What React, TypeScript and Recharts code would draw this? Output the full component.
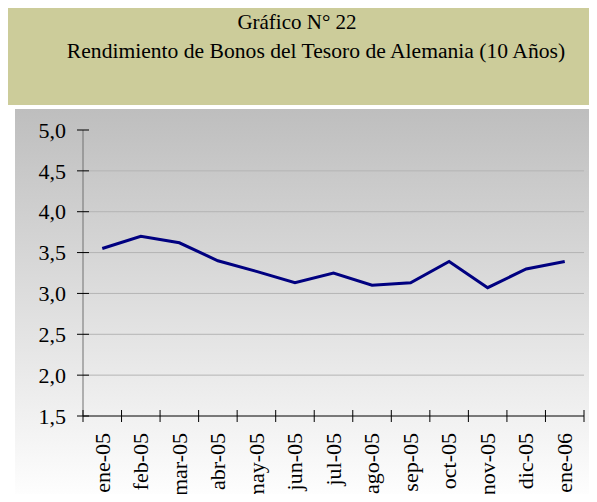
import { CartesianGrid, Line, LineChart, XAxis, YAxis } from "recharts";

const MONTHS = [
  "ene-05",
  "feb-05",
  "mar-05",
  "abr-05",
  "may-05",
  "jun-05",
  "jul-05",
  "ago-05",
  "sep-05",
  "oct-05",
  "nov-05",
  "dic-05",
  "ene-06",
];

const YIELDS = [3.55, 3.7, 3.62, 3.4, 3.27, 3.13, 3.25, 3.1, 3.13, 3.39, 3.07, 3.3, 3.39];

const Y_TICKS = [1.5, 2.0, 2.5, 3.0, 3.5, 4.0, 4.5, 5.0];
const GRID_VALUES = [2.0, 2.5, 3.0, 3.5, 4.0, 4.5];

const FONT = "'Liberation Serif', 'Times New Roman', serif";

const chartData = MONTHS.map((m, i) => ({ month: m, value: YIELDS[i] }));

// category labels sit mid-band, tick marks sit on the band edges (Excel style)
function XTick(props: any) {
  const { x, y, payload, index } = props;
  const off = payload.offset || 19.27;
  const last = index === MONTHS.length - 1;
  const ty = y + 17;
  return (
    <g>
      <line x1={x - off} x2={x - off} y1={y - 6} y2={y + 6} stroke="#000" />
      {last && <line x1={x + off} x2={x + off} y1={y - 6} y2={y + 6} stroke="#000" />}
      <text
        x={x}
        y={ty}
        transform={`rotate(-90 ${x} ${ty})`}
        textAnchor="end"
        dy="0.33em"
        fontSize={22}
        style={{ fontFamily: FONT }}
        fill="#000"
      >
        {payload.value}
      </text>
    </g>
  );
}

function YTick(props: any) {
  const { x, y, payload } = props;
  return (
    <g>
      <line x1={x - 6} x2={x + 6} y1={y} y2={y} stroke="#000" />
      <text
        x={x - 17}
        y={y}
        textAnchor="end"
        dy="0.35em"
        fontSize={22}
        style={{ fontFamily: FONT }}
        fill="#000"
      >
        {payload.value.toFixed(1).replace(".", ",")}
      </text>
    </g>
  );
}

export default function App() {
  return (
    <div style={{ position: "relative", margin: -8, width: 597, height: 502, background: "#fff", fontFamily: FONT }}>
      <div style={{ position: "absolute", left: 5, top: 5, width: 592, height: 100, background: "#CCCC9A" }} />
      <div
        style={{
          position: "absolute",
          left: 0,
          top: 12,
          width: 594,
          textAlign: "center",
          fontSize: 21,
          lineHeight: "21px",
          color: "#000",
        }}
      >
        Gráfico N° 22
      </div>
      <div
        style={{
          position: "absolute",
          left: 40,
          top: 41,
          width: 552,
          textAlign: "center",
          fontSize: 21.6,
          lineHeight: "21px",
          color: "#000",
          whiteSpace: "nowrap",
        }}
      >
        Rendimiento de Bonos del Tesoro de Alemania (10 Años)
      </div>
      <div
        style={{
          position: "absolute",
          left: 15,
          top: 109,
          width: 578,
          height: 393,
          background: "linear-gradient(to bottom, #BEBEBE 0%, #FFFFFF 100%)",
        }}
      >
        <LineChart width={578} height={393} data={chartData} margin={{ top: 21, right: 9, left: 0, bottom: 0 }}>
          <CartesianGrid vertical={false} stroke="#B4B4B4" horizontalValues={GRID_VALUES} />
          <XAxis
            dataKey="month"
            scale="band"
            height={86}
            interval={0}
            tickLine={false}
            tickSize={0}
            tickMargin={0}
            axisLine={{ stroke: "#000" }}
            tick={<XTick />}
          />
          <YAxis
            width={68}
            domain={[1.5, 5]}
            ticks={Y_TICKS}
            interval={0}
            tickLine={false}
            tickSize={0}
            tickMargin={0}
            axisLine={{ stroke: "#707070" }}
            tick={<YTick />}
          />
          <Line
            type="linear"
            dataKey="value"
            stroke="#000080"
            strokeWidth={3}
            dot={false}
            isAnimationActive={false}
          />
        </LineChart>
      </div>
    </div>
  );
}
